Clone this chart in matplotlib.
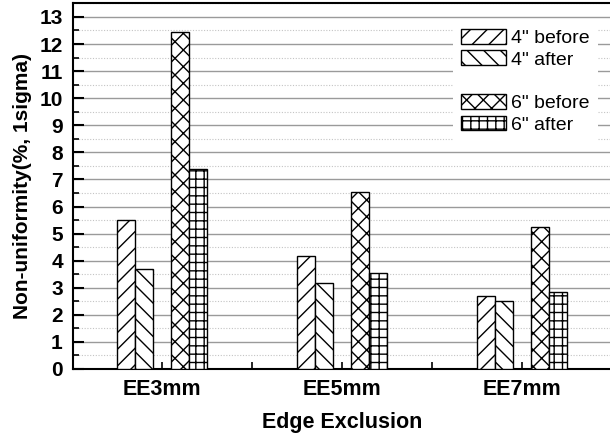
import numpy as np
import matplotlib
matplotlib.use('Agg')
import matplotlib.pyplot as plt
from matplotlib.patches import Patch
from matplotlib.ticker import MultipleLocator, FixedLocator

plt.rcParams['font.family'] = 'Liberation Sans'
plt.rcParams['hatch.linewidth'] = 1.0

groups = ['EE3mm', 'EE5mm', 'EE7mm']
before4 = [5.50, 4.17, 2.68]
after4 = [3.69, 3.16, 2.50]
before6 = [12.43, 6.52, 5.23]
after6 = [7.37, 3.56, 2.83]

series = [('4" before', before4, '//'),
          ('4" after', after4, '\\\\'),
          ('6" before', before6, 'xx'),
          ('6" after', after6, '++')]
offsets = [-0.2, -0.1, 0.1, 0.2]
w = 0.1

fig = plt.figure(figsize=(6.1, 4.34), dpi=100)
ax = fig.add_axes([72.5/610, 65/434, 539.2/610, 365.6/434])

x = np.arange(1, len(groups)+1)
handles = []
for (name, vals, hatch), off in zip(series, offsets):
  b = ax.bar(x+off, vals, w, color='white', edgecolor='black', lw=1.0,
             hatch=hatch, label=name, zorder=3)
  handles.append(b)

ax.set_xlim(0.5, 3.5)
ax.set_ylim(0, 13.5)
ax.set_xticks(x)
ax.set_xticklabels(groups, fontsize=15.5, fontweight='bold')
ax.xaxis.set_minor_locator(FixedLocator([1.5, 2.5]))
ax.yaxis.set_major_locator(MultipleLocator(1))
ax.yaxis.set_minor_locator(MultipleLocator(0.5))
ax.tick_params(axis='y', which='major', direction='in', length=8, width=1.5,
               labelsize=15, pad=7)
ax.tick_params(axis='y', which='minor', direction='in', length=4, width=1.2)
ax.tick_params(axis='x', which='both', direction='in', length=5, width=1.2, pad=7)
for t in ax.get_yticklabels():
  t.set_fontweight('bold')

ax.grid(axis='y', which='major', color='#9a9a9a', lw=1.0, zorder=0)
ax.grid(axis='y', which='minor', color='#c4c4c4', lw=0.8, ls=(0, (1, 1.5)), zorder=0)
ax.set_axisbelow(True)
for s in ax.spines.values():
  s.set_linewidth(1.5)

ax.set_xlabel('Edge Exclusion', fontsize=15.5, fontweight='bold', labelpad=9)
ax.set_ylabel('Non-uniformity(%, 1sigma)', fontsize=15, fontweight='bold', labelpad=5)

blank = Patch(facecolor='none', edgecolor='none')
leg_h = [handles[0], handles[1], blank, handles[2], handles[3]]
leg_l = ['4" before', '4" after', ' ', '6" before', '6" after']
leg = fig.legend(leg_h, leg_l, loc='upper left', bbox_to_anchor=(453/610, 1-21/434),
                 fontsize=14, handlelength=2.3, handleheight=0.8,
                 handletextpad=0.3, labelspacing=0.18, borderpad=0.4,
                 borderaxespad=0, frameon=True, fancybox=False,
                 facecolor='white', edgecolor='none', framealpha=1)

fig.savefig('out.png', dpi=100)
